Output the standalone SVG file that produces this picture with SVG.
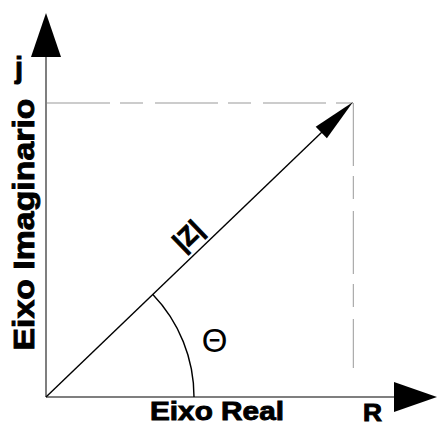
<svg xmlns="http://www.w3.org/2000/svg" width="438" height="425" viewBox="0 0 438 425">
<style>
.axis{stroke:#555;stroke-width:1.5;fill:none}
.vec{stroke:#000;stroke-width:1.4;fill:none}
.dash{stroke:#999;stroke-width:1;fill:none;stroke-dasharray:63 10 23 12}
.head{fill:#000;stroke:none}
.lbl{font-family:"Liberation Sans",Arial,sans-serif;font-weight:bold;fill:#000;stroke:#000;stroke-width:0.9}
.theta{font-family:"Liberation Sans",Arial,sans-serif;fill:#000}
</style>
<rect width="438" height="425" fill="#fff"/>
<g id="axes">
<line class="axis" x1="46" y1="397" x2="46" y2="50"/>
<polygon class="head" points="46,13 31,57 61,57"/>
<line class="axis" x1="46" y1="397" x2="400" y2="397"/>
<polygon class="head" points="437,397 394,382 394,412"/>
</g>
<g id="connectors">
<line class="dash" x1="47" y1="103" x2="353" y2="103"/>
<line class="dash" x1="353.3" y1="103" x2="353.3" y2="368"/>
<line class="vec" x1="46" y1="397" x2="322" y2="132"/>
<polygon class="head" points="353,102 326.9,138.3 315.7,126.7"/>
<path class="vec" d="M194 397 A148 148 0 0 0 152.6 294.3"/>
</g>
<g id="labels">
<text class="lbl" x="19" y="78" font-size="29" text-anchor="middle">j</text>
<text class="lbl" transform="translate(34 224.5) rotate(-90)" font-size="29" text-anchor="middle" textLength="252" lengthAdjust="spacingAndGlyphs">Eixo Imaginario</text>
<text class="lbl" x="150" y="420" font-size="26" textLength="134" lengthAdjust="spacingAndGlyphs">Eixo Real</text>
<text class="lbl" x="363" y="421" font-size="23" textLength="19" lengthAdjust="spacingAndGlyphs">R</text>
<text class="lbl" transform="translate(194 242) rotate(-44)" font-size="26" text-anchor="middle">|Z|</text>
<text class="theta" x="214.5" y="352" font-size="33" text-anchor="middle">Θ</text>
</g>
</svg>
